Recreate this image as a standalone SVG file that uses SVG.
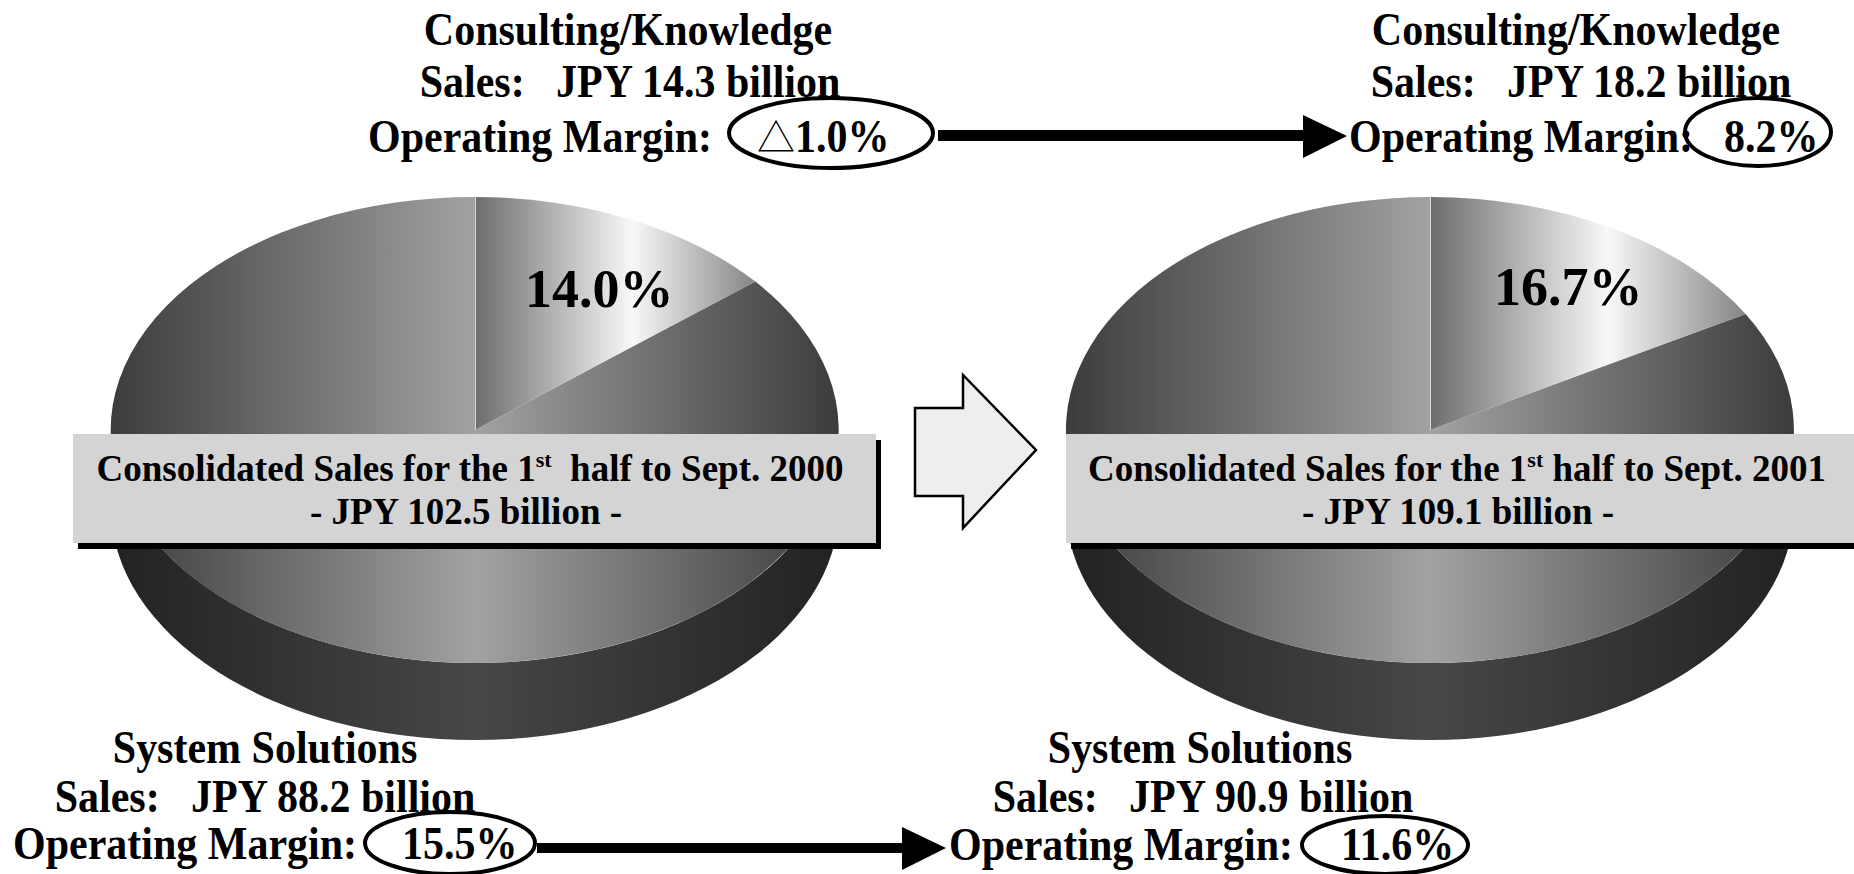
<svg xmlns="http://www.w3.org/2000/svg" width="1854" height="874" viewBox="0 0 1854 874">
  <defs>
    <!-- horizontal shading of the large slice: dark rim, light middle -->
    <linearGradient id="bigFaceL" gradientUnits="userSpaceOnUse" x1="111" y1="0" x2="839" y2="0">
      <stop offset="0" stop-color="#3c3c3c"/>
      <stop offset="0.5" stop-color="#a2a2a2"/>
      <stop offset="1" stop-color="#3c3c3c"/>
    </linearGradient>
    <linearGradient id="bigFaceR" gradientUnits="userSpaceOnUse" x1="1066" y1="0" x2="1794" y2="0">
      <stop offset="0" stop-color="#3c3c3c"/>
      <stop offset="0.5" stop-color="#a2a2a2"/>
      <stop offset="1" stop-color="#3c3c3c"/>
    </linearGradient>
    <!-- the small highlighted slice -->
    <linearGradient id="wedgeL" gradientUnits="userSpaceOnUse" x1="476" y1="0" x2="755" y2="0">
      <stop offset="0" stop-color="#6e6e6e"/>
      <stop offset="0.56" stop-color="#f8f8f8"/>
      <stop offset="1" stop-color="#858585"/>
    </linearGradient>
    <linearGradient id="wedgeR" gradientUnits="userSpaceOnUse" x1="1431" y1="0" x2="1746" y2="0">
      <stop offset="0" stop-color="#6e6e6e"/>
      <stop offset="0.56" stop-color="#f8f8f8"/>
      <stop offset="1" stop-color="#858585"/>
    </linearGradient>
    <!-- pie rim -->
    <linearGradient id="sideL" gradientUnits="userSpaceOnUse" x1="111" y1="0" x2="839" y2="0">
      <stop offset="0" stop-color="#222222"/>
      <stop offset="0.5" stop-color="#474747"/>
      <stop offset="1" stop-color="#222222"/>
    </linearGradient>
    <linearGradient id="sideR" gradientUnits="userSpaceOnUse" x1="1066" y1="0" x2="1794" y2="0">
      <stop offset="0" stop-color="#222222"/>
      <stop offset="0.5" stop-color="#474747"/>
      <stop offset="1" stop-color="#222222"/>
    </linearGradient>
  </defs>
  <style>
    text { font-family: "Liberation Serif", "Times New Roman", serif; font-weight: bold; fill: #000; }
    .cap { font-size: 46px; }
    .mid { text-anchor: middle; }
    .pct { font-size: 54px; }
    .box { font-size: 37px; text-anchor: middle; }
    .sup { font-size: 22px; }
    .tri { font-family: "Noto Sans CJK JP", "DejaVu Sans", sans-serif; font-weight: normal; font-size: 38px; }
    .ring { fill: none; stroke: #000; stroke-width: 4; }
    .panel { fill: #d4d4d4; }
    .shadow { fill: #000; }
  </style>

  <rect width="1854" height="874" fill="#ffffff"/>

  <!-- pie for the first half to Sept. 2000 -->
  <g id="pie-2000">
    <path d="M111,430 A364,233 0 0 0 839,430 L839,507 A364,233 0 0 1 111,507 Z" fill="url(#sideL)"/>
    <path d="M475,430 L475,197 A364,233 0 1 0 755.3,281.6 Z" fill="url(#bigFaceL)"/>
    <path d="M475,430 L475,197 A364,233 0 0 1 755.3,281.6 Z" fill="url(#wedgeL)"/>
    <line x1="475.5" y1="197" x2="475.5" y2="430" stroke="#d8d8d8" stroke-width="1"/>
    <text class="pct" x="525" y="307">14.0%</text>
  </g>

  <!-- pie for the first half to Sept. 2001 -->
  <g id="pie-2001">
    <path d="M1066,430 A364,233 0 0 0 1794,430 L1794,507 A364,233 0 0 1 1066,507 Z" fill="url(#sideR)"/>
    <path d="M1430,430 L1430,197 A364,233 0 1 0 1745.6,314 Z" fill="url(#bigFaceR)"/>
    <path d="M1430,430 L1430,197 A364,233 0 0 1 1745.6,314 Z" fill="url(#wedgeR)"/>
    <line x1="1430.5" y1="197" x2="1430.5" y2="430" stroke="#d8d8d8" stroke-width="1"/>
    <text class="pct" x="1494" y="305">16.7%</text>
  </g>

  <!-- consolidated sales panels -->
  <g id="panel-2000">
    <rect class="shadow" x="78" y="440" width="803" height="109"/>
    <rect class="panel" x="73" y="434" width="803" height="109"/>
    <text class="box" x="470" y="481" xml:space="preserve">Consolidated Sales for the 1<tspan class="sup" dy="-14">st</tspan><tspan dy="14">  half to Sept. 2000</tspan></text>
    <text class="box" x="466" y="524">- JPY 102.5 billion -</text>
  </g>
  <g id="panel-2001">
    <rect class="shadow" x="1071" y="440" width="800" height="109"/>
    <rect class="panel" x="1066" y="434" width="800" height="109"/>
    <text class="box" x="1457" y="481" xml:space="preserve">Consolidated Sales for the 1<tspan class="sup" dy="-14">st</tspan><tspan dy="14"> half to Sept. 2001</tspan></text>
    <text class="box" x="1458" y="524">- JPY 109.1 billion -</text>
  </g>

  <!-- segment captions (narrow, tall serif lettering) -->
  <g id="ck-2000">
    <text class="cap mid" transform="translate(628,45) scale(0.913,1)">Consulting/Knowledge</text>
    <text class="cap mid" transform="translate(630,97) scale(0.913,1)" xml:space="preserve">Sales:   JPY 14.3 billion</text>
    <text class="cap" transform="translate(368,152) scale(0.913,1)">Operating Margin:</text>
    <text class="tri" x="757" y="151">△</text>
    <text class="cap" transform="translate(795,152) scale(0.913,1)">1.0%</text>
    <ellipse class="ring" cx="831" cy="133" rx="102" ry="35"/>
  </g>
  <g id="ck-2001">
    <text class="cap mid" transform="translate(1576,45) scale(0.913,1)">Consulting/Knowledge</text>
    <text class="cap mid" transform="translate(1581,97) scale(0.913,1)" xml:space="preserve">Sales:   JPY 18.2 billion</text>
    <text class="cap" transform="translate(1349,152) scale(0.913,1)">Operating Margin:</text>
    <text class="cap" transform="translate(1724,152) scale(0.913,1)">8.2%</text>
    <ellipse class="ring" cx="1758" cy="132" rx="73" ry="34"/>
  </g>
  <g id="ss-2000">
    <text class="cap mid" transform="translate(265,763) scale(0.913,1)">System Solutions</text>
    <text class="cap mid" transform="translate(265,812) scale(0.913,1)" xml:space="preserve">Sales:   JPY 88.2 billion</text>
    <text class="cap" transform="translate(13,859) scale(0.913,1)">Operating Margin:</text>
    <text class="cap" transform="translate(402,859) scale(0.913,1)">15.5%</text>
    <ellipse class="ring" cx="450" cy="843" rx="85" ry="31"/>
  </g>
  <g id="ss-2001">
    <text class="cap mid" transform="translate(1200,763) scale(0.913,1)">System Solutions</text>
    <text class="cap mid" transform="translate(1203,812) scale(0.913,1)" xml:space="preserve">Sales:   JPY 90.9 billion</text>
    <text class="cap" transform="translate(949,860) scale(0.913,1)">Operating Margin:</text>
    <text class="cap" transform="translate(1341,860) scale(0.913,1)">11.6%</text>
    <ellipse class="ring" cx="1385" cy="845" rx="83" ry="29"/>
  </g>

  <!-- connectors -->
  <g id="connectors">
    <rect x="938" y="130" width="366" height="11" fill="#000"/>
    <polygon points="1303,115 1347,136 1303,158" fill="#000"/>
    <rect x="537" y="843" width="366" height="10" fill="#000"/>
    <polygon points="902,827 946,848 902,870" fill="#000"/>
    <polygon points="915,408 963,408 963,375 1036,450 963,528 963,496 915,496 Z" fill="#eeeeee" stroke="#000" stroke-width="2.5" stroke-linejoin="miter"/>
  </g>
</svg>
